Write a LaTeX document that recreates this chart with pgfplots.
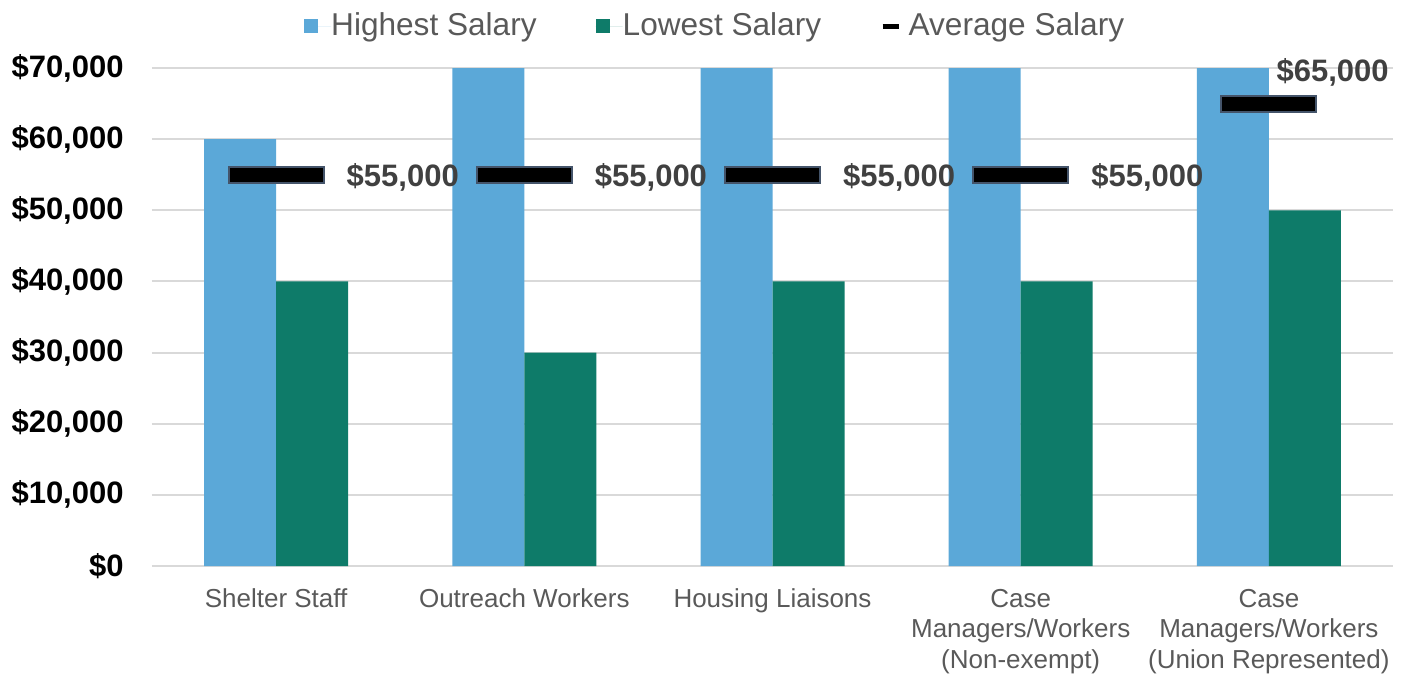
\documentclass[border=0pt]{standalone}
\usepackage{fontspec}
\setmainfont{Liberation Sans}
\usepackage{pgfplots}
\pgfplotsset{compat=1.18}
\usetikzlibrary{calc}
\definecolor{hiblue}{HTML}{5BA8D8}
\definecolor{loteal}{HTML}{0E7B69}
\definecolor{gridgray}{HTML}{D9D9D9}
\definecolor{labgray}{HTML}{404040}
\definecolor{catgray}{HTML}{595959}
\definecolor{markedge}{HTML}{44546A}
\begin{document}
\begin{tikzpicture}
\begin{axis}[name=ax, scale only axis, width=620.5bp, height=249bp,
  xmin=-0.5, xmax=4.5, ymin=0, ymax=70000, clip=false,
  scaled y ticks=false,
  axis line style={draw=none}, ymajorgrids, grid style={gridgray, line width=1bp},
  major tick length=0pt,
  ytick={0,10000,20000,30000,40000,50000,60000,70000},
  yticklabels={{\$0},{\$10,000},{\$20,000},{\$30,000},{\$40,000},{\$50,000},{\$60,000},{\$70,000}},
  yticklabel style={font=\fontsize{15.5bp}{18bp}\selectfont\bfseries, text=black, anchor=east, inner sep=0pt, xshift=-14bp},
  xtick={0,1,2,3,4},
  xticklabels={{Shelter Staff},{Outreach Workers},{Housing Liaisons},{Case\\Managers/Workers\\(Non-exempt)},{Case\\Managers/Workers\\(Union Represented)}},
  xticklabel style={align=center, font=\fontsize{13bp}{15.25bp}\selectfont, text=catgray, yshift=-8bp},
  legend columns=3,
  legend style={at={(0.453,1)}, anchor=center, yshift=21bp, draw=none, fill=none,
    font=\fontsize{15.8bp}{19bp}\selectfont, text=catgray, nodes={inner sep=0pt},
    /tikz/every even column/.append style={column sep=29.5bp}},
]
\addplot[ybar, bar width=36bp, bar shift=-18bp, fill=hiblue, draw=none,
  legend image code/.code={\fill[hiblue] (0bp,-3.5bp) rectangle (7bp,3.5bp); \path[draw=none] (0bp,0bp) -- (13.5bp,0bp);}]
  coordinates {(0,60000) (1,70000) (2,70000) (3,70000) (4,70000)};
\addlegendentry{Highest Salary}
\addplot[ybar, bar width=36bp, bar shift=18bp, fill=loteal, draw=none,
  legend image code/.code={\fill[loteal] (0bp,-3.5bp) rectangle (7bp,3.5bp); \path[draw=none] (0bp,0bp) -- (13.5bp,0bp);}]
  coordinates {(0,40000) (1,30000) (2,40000) (3,40000) (4,50000)};
\addlegendentry{Lowest Salary}
\addplot[only marks, mark=square*, mark size=4bp,
  mark options={xscale=5.94, fill=black, draw=markedge, line width=1bp},
  point meta=explicit symbolic, nodes near coords,
  every node near coord/.append style={anchor=west, xshift=31.5bp, yshift=-1.5bp, text=labgray,
    font=\fontsize{15.5bp}{18bp}\selectfont\bfseries},
  legend image code/.code={\draw[black, line width=2.5bp] (0bp,0bp) -- (8bp,0bp); \path[draw=none] (0bp,0bp) -- (13bp,0bp);}]
  coordinates {(0,55000) [\$55,000] (1,55000) [\$55,000] (2,55000) [\$55,000] (3,55000) [\$55,000]};
\addlegendentry{Average Salary}
\addplot[only marks, mark=square*, mark size=4bp, forget plot,
  mark options={xscale=5.94, fill=black, draw=markedge, line width=1bp},
  point meta=explicit symbolic, nodes near coords,
  every node near coord/.append style={anchor=west, xshift=0bp, yshift=15.8bp, text=labgray,
    font=\fontsize{15.5bp}{18bp}\selectfont\bfseries}]
  coordinates {(4,65000) [\$65,000]};
\end{axis}
\pgfresetboundingbox
\path[use as bounding box] ($(ax.south west)+(-76bp,-54bp)$) rectangle ($(ax.south west)+(628bp,283bp)$);
\end{tikzpicture}
\end{document}
